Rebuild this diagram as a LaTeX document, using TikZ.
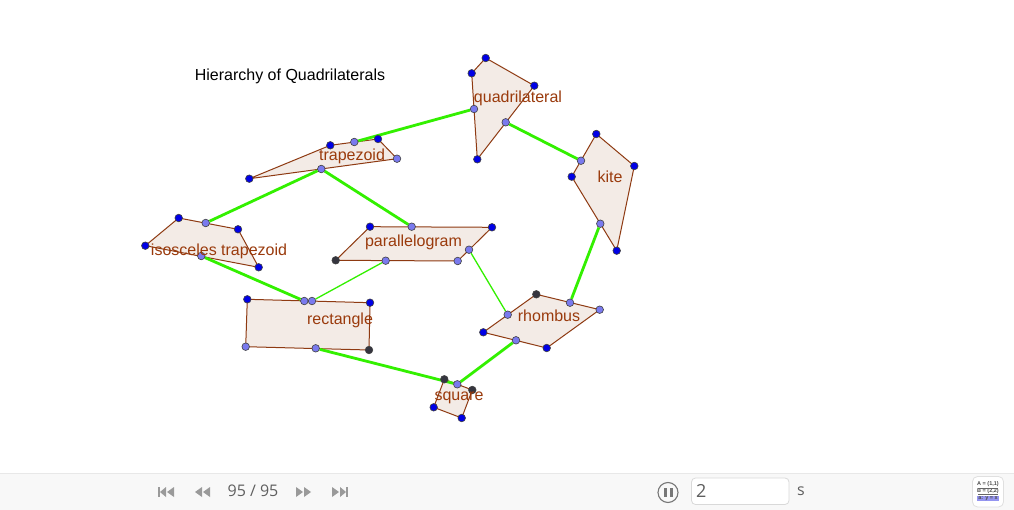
\documentclass[tikz,border=0pt]{standalone}
\usepackage{fontspec}
\setmainfont{Liberation Sans}
\newfontfamily\uifont{Open Sans}
\usetikzlibrary{backgrounds}
\definecolor{edgebrown}{HTML}{8E3A12}
\definecolor{polyfill}{HTML}{F3EBE6}
\definecolor{labelbrown}{HTML}{9A3A0C}
\definecolor{linkgreen}{HTML}{33F000}
\definecolor{ptblue}{HTML}{0000E6}
\definecolor{ptlight}{HTML}{7A7AEE}
\definecolor{ptdark}{HTML}{35353F}
\definecolor{barbg}{HTML}{F8F8F8}
\definecolor{barline}{HTML}{E8E8E8}
\definecolor{icongrey}{HTML}{9A9A9A}
\definecolor{uitext}{HTML}{5F5F5F}
\tikzset{
  x=1pt,y=-1pt,
  pointbase/.style={circle,draw=black!75,line width=0.6pt,inner sep=0pt,minimum size=7.6pt},
  bp/.style={pointbase,fill=ptblue},
  lp/.style={pointbase,fill=ptlight},
  dp/.style={pointbase,fill=ptdark},
  poly/.style={draw=edgebrown,fill=polyfill,line width=1pt,line join=round},
  thicklink/.style={draw=linkgreen,line width=2.8pt},
  thinlink/.style={draw=linkgreen,line width=1.3pt},
  shapelabel/.style={text=labelbrown,font=\fontsize{16}{18}\selectfont,inner sep=0pt},
  titlelabel/.style={text=black,font=\fontsize{16}{18}\selectfont,inner sep=0pt},
  uilabel/.style={text=uitext,font=\uifont\fontsize{16}{18}\selectfont,inner sep=0pt},
  mediaicon/.style={fill=icongrey,draw=none},
}
\begin{document}
\begin{tikzpicture}
\useasboundingbox (0,0) rectangle (1014,510);
% points
\node[bp] (qa) at (485.7,58) {};
\node[bp] (qb) at (534.3,85.7) {};
\node[bp] (qc) at (477.3,159.3) {};
\node[bp] (qd) at (471.7,73.3) {};
\node[lp] (qe) at (474,109) {};
\node[lp] (qf) at (505.7,122.3) {};
\node[bp] (ka) at (596.3,134) {};
\node[bp] (kb) at (634.3,166) {};
\node[bp] (kc) at (616.7,250.7) {};
\node[bp] (kd) at (571.7,176.7) {};
\node[lp] (ke) at (581,160.7) {};
\node[lp] (kf) at (600.3,223.7) {};
\node[bp] (ta) at (249.3,178.7) {};
\node[bp] (tb) at (330.3,145.3) {};
\node[bp] (tc) at (378,139) {};
\node[lp] (td) at (397,158.7) {};
\node[lp] (te) at (354.3,142) {};
\node[lp] (tf) at (321.3,169) {};
\node[bp] (ia) at (145.3,245.7) {};
\node[bp] (ib) at (178.7,218) {};
\node[bp] (ic) at (238,229.3) {};
\node[bp] (id) at (258.7,267.3) {};
\node[lp] (ie) at (205.7,223) {};
\node[lp] (if) at (201.3,256) {};
\node[bp] (pa) at (370,226.7) {};
\node[bp] (pb) at (492,227.3) {};
\node[lp] (pc) at (457.7,261) {};
\node[dp] (pd) at (335.7,260.3) {};
\node[lp] (pe) at (411.7,226.7) {};
\node[lp] (pf) at (385.7,260.7) {};
\node[lp] (pg) at (469,249.7) {};
\node[bp] (ra) at (247.3,299.3) {};
\node[bp] (rb) at (370,302.7) {};
\node[dp] (rc) at (369,350) {};
\node[lp] (rd) at (245.7,346.7) {};
\node[lp] (re) at (304.3,301) {};
\node[lp] (rf) at (312,301) {};
\node[lp] (rg) at (315.7,348.3) {};
\node[dp] (ha) at (536.3,294.3) {};
\node[lp] (hb) at (599.7,309.7) {};
\node[bp] (hc) at (546.7,348) {};
\node[bp] (hd) at (483.3,332.3) {};
\node[lp] (he) at (570,302.7) {};
\node[lp] (hf) at (507.7,314.7) {};
\node[lp] (hg) at (516,340.3) {};
\node[dp] (sa) at (444.3,379.3) {};
\node[dp] (sb) at (472.3,390) {};
\node[bp] (sc) at (461.7,418) {};
\node[bp] (sd) at (433.7,407.3) {};
\node[lp] (se) at (457.3,384.3) {};
% labels
\node[titlelabel] (title) at (290,76) {Hierarchy of Quadrilaterals};
\node[shapelabel] (lq) at (518,98) {quadrilateral};
\node[shapelabel] (lt) at (352,156.5) {trapezoid};
\node[shapelabel] (li) at (219,251.5) {isosceles trapezoid};
\node[shapelabel] (lp) at (413.5,242) {parallelogram};
\node[shapelabel] (lr) at (340,320) {rectangle};
\node[shapelabel] (lh) at (549,316) {rhombus};
\node[shapelabel] (ls) at (459,397.5) {square};
\node[shapelabel] (lk) at (610,176.5) {kite};
% toolbar content
\node[uilabel] (counter) at (253,491) {95 / 95};
\node[uilabel,anchor=west,font=\uifont\fontsize{18}{20}\selectfont] (stepval) at (696,490.5) {2};
\node[uilabel,anchor=west] (unit) at (797,491) {s};
\begin{pgfonlayer}{background}
\fill[white] (0,0) rectangle (1014,510);
\fill[barbg] (0,473) rectangle (1014,510);
\draw[barline,line width=1pt] (0,473.5) -- (1014,473.5);
% polygons
\draw[poly] (qa.center)--(qb.center)--(qc.center)--(qd.center)--cycle;
\draw[poly] (ka.center)--(kb.center)--(kc.center)--(kd.center)--cycle;
\draw[poly] (ta.center)--(tb.center)--(tc.center)--(td.center)--cycle;
\draw[poly] (ia.center)--(ib.center)--(ic.center)--(id.center)--cycle;
\draw[poly] (pa.center)--(pb.center)--(pc.center)--(pd.center)--cycle;
\draw[poly] (ra.center)--(rb.center)--(rc.center)--(rd.center)--cycle;
\draw[poly] (ha.center)--(hb.center)--(hc.center)--(hd.center)--cycle;
\draw[poly] (sa.center)--(sb.center)--(sc.center)--(sd.center)--cycle;
% links
\draw[thicklink] (qe)--(te);
\draw[thicklink] (qf)--(ke);
\draw[thicklink] (tf)--(ie);
\draw[thicklink] (tf)--(pe);
\draw[thicklink] (if)--(re);
\draw[thicklink] (kf)--(he);
\draw[thicklink] (rg)--(se);
\draw[thicklink] (hg)--(se);
\draw[thinlink] (pf)--(rf);
\draw[thinlink] (pg)--(hf);
% toolbar icons
\fill[mediaicon] (158,487) rectangle (160,497);
\fill[mediaicon] (166,487)--(160,492)--(166,497)--cycle;
\fill[mediaicon] (174,487)--(167,492)--(174,497)--cycle;
\fill[mediaicon] (202,487)--(195,492)--(202,497)--cycle;
\fill[mediaicon] (210,487)--(203,492)--(210,497)--cycle;
\fill[mediaicon] (296,487)--(303,492)--(296,497)--cycle;
\fill[mediaicon] (304,487)--(311,492)--(304,497)--cycle;
\fill[mediaicon] (332,487)--(339,492)--(332,497)--cycle;
\fill[mediaicon] (340,487)--(346,492)--(340,497)--cycle;
\fill[mediaicon] (346,487) rectangle (348,497);
% pause
\draw[fill=barbg,draw=uitext!85,line width=1.1pt] (668,492.5) circle (10);
\fill[uitext!85] (663.5,488) rectangle (666.8,497);
\fill[uitext!85] (669.5,488) rectangle (672.8,497);
% field
\draw[fill=white,draw=black!15,line width=0.8pt,rounded corners=4pt] (691.5,478) rectangle (789,504.5);
% algebra button
\draw[fill=white,draw=black!12,line width=0.8pt,rounded corners=5pt] (972.5,476.5) rectangle (1003.5,507);
\node[inner sep=0pt,font=\bfseries\fontsize{5.5}{6}\selectfont,text=black!70] (al1) at (988,484.5) {A = (1,1)};
\node[inner sep=0pt,font=\bfseries\fontsize{5.5}{6}\selectfont,text=black!70] (al2) at (988,491.5) {B = (2,2)};
\fill[ptlight!80] (977,496) rectangle (999,501);
\node[inner sep=0pt,font=\bfseries\fontsize{5.5}{6}\selectfont,text=black!70] (al3) at (988,498.5) {a: y = x};
\draw[black!60,line width=0.5pt] (978,488) -- (998,488);
\draw[black!60,line width=0.5pt] (978,494.5) -- (998,494.5);
\end{pgfonlayer}
\end{tikzpicture}
\end{document}
